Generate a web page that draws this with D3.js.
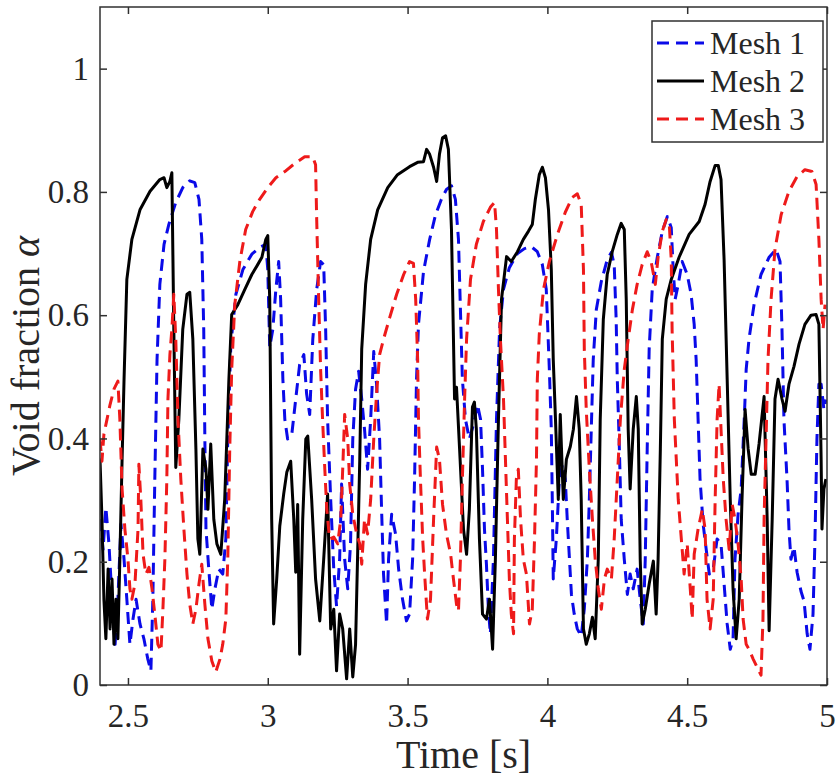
<!DOCTYPE html>
<html>
<head>
<meta charset="utf-8">
<script src="https://cdn.jsdelivr.net/npm/d3@7"></script>
<style>
  body { margin: 0; background: #fff; }
  svg text { font-family: "Liberation Serif", "Times New Roman", serif; fill: #262626; }
</style>
</head>
<body>
<svg id="chart" width="837" height="780"></svg>
<script>
// series names and tick values
const seriesNames = ["Mesh 1", "Mesh 2", "Mesh 3"];
const xTicks = [2.5, 3, 3.5, 4, 4.5, 5];
const yTicks = [0, 0.2, 0.4, 0.6, 0.8, 1];

// Mesh 1 (blue dashed): [time s, void fraction]
const mesh1 = [
  [2.400,0.269],[2.411,0.220],[2.421,0.288],[2.432,0.229],[2.443,0.139],[2.454,0.066],
  [2.464,0.139],[2.475,0.261],[2.486,0.204],[2.496,0.139],[2.507,0.066],[2.518,0.107],
  [2.529,0.139],[2.543,0.099],[2.557,0.075],[2.571,0.042],[2.582,0.023],[2.589,0.139],
  [2.596,0.334],[2.604,0.528],[2.614,0.650],[2.629,0.715],[2.646,0.747],[2.671,0.783],
  [2.696,0.807],[2.721,0.818],[2.739,0.815],[2.754,0.788],[2.764,0.723],[2.771,0.577],
  [2.775,0.399],[2.779,0.253],[2.789,0.188],[2.800,0.123],[2.811,0.156],[2.825,0.188],
  [2.839,0.180],[2.850,0.237],[2.857,0.399],[2.868,0.553],[2.886,0.634],[2.911,0.674],
  [2.943,0.699],[2.971,0.710],[2.993,0.715],[3.000,0.674],[3.007,0.548],[3.018,0.577],
  [3.029,0.642],[3.039,0.687],[3.046,0.626],[3.054,0.496],[3.061,0.431],[3.071,0.399],
  [3.086,0.407],[3.100,0.464],[3.114,0.520],[3.129,0.536],[3.139,0.472],[3.150,0.439],
  [3.161,0.561],[3.175,0.642],[3.189,0.687],[3.200,0.682],[3.207,0.577],[3.214,0.431],
  [3.225,0.301],[3.236,0.188],[3.246,0.128],[3.257,0.204],[3.264,0.326],[3.275,0.204],
  [3.286,0.156],[3.296,0.229],[3.304,0.399],[3.314,0.480],[3.325,0.509],[3.336,0.464],
  [3.346,0.415],[3.357,0.350],[3.368,0.431],[3.379,0.541],[3.389,0.488],[3.400,0.399],
  [3.407,0.285],[3.414,0.180],[3.425,0.099],[3.432,0.204],[3.443,0.277],[3.457,0.245],
  [3.468,0.188],[3.482,0.139],[3.496,0.104],[3.507,0.115],[3.518,0.204],[3.525,0.334],
  [3.532,0.496],[3.539,0.585],[3.557,0.671],[3.579,0.723],[3.600,0.763],[3.621,0.788],
  [3.639,0.804],[3.657,0.810],[3.671,0.788],[3.682,0.723],[3.689,0.609],[3.696,0.496],
  [3.707,0.431],[3.721,0.399],[3.736,0.423],[3.750,0.455],[3.761,0.431],[3.768,0.350],
  [3.775,0.253],[3.782,0.196],[3.789,0.123],[3.796,0.083],[3.807,0.204],[3.818,0.431],
  [3.829,0.577],[3.843,0.642],[3.864,0.677],[3.893,0.700],[3.918,0.708],[3.943,0.711],
  [3.964,0.703],[3.982,0.682],[3.996,0.642],[4.007,0.512],[4.014,0.415],[4.018,0.285],
  [4.021,0.172],[4.032,0.237],[4.043,0.334],[4.054,0.358],[4.064,0.334],[4.071,0.269],
  [4.079,0.204],[4.086,0.147],[4.096,0.115],[4.107,0.091],[4.121,0.079],[4.132,0.123],
  [4.143,0.204],[4.150,0.301],[4.157,0.415],[4.164,0.528],[4.175,0.609],[4.193,0.655],
  [4.214,0.690],[4.229,0.702],[4.239,0.682],[4.246,0.593],[4.250,0.496],[4.257,0.391],
  [4.264,0.269],[4.275,0.204],[4.286,0.147],[4.296,0.180],[4.307,0.156],[4.321,0.188],
  [4.332,0.139],[4.343,0.099],[4.350,0.204],[4.357,0.383],[4.364,0.545],[4.375,0.642],
  [4.393,0.694],[4.411,0.736],[4.429,0.760],[4.443,0.742],[4.450,0.674],[4.457,0.626],
  [4.468,0.650],[4.482,0.687],[4.500,0.666],[4.514,0.634],[4.525,0.585],[4.532,0.528],
  [4.539,0.431],[4.546,0.334],[4.557,0.261],[4.568,0.220],[4.579,0.180],[4.593,0.188],
  [4.607,0.237],[4.621,0.229],[4.632,0.164],[4.643,0.099],[4.654,0.058],[4.664,0.075],
  [4.671,0.204],[4.682,0.277],[4.693,0.318],[4.704,0.431],[4.711,0.512],[4.721,0.561],
  [4.739,0.617],[4.764,0.666],[4.793,0.694],[4.818,0.707],[4.832,0.687],[4.839,0.577],
  [4.846,0.431],[4.857,0.334],[4.864,0.253],[4.871,0.204],[4.882,0.224],[4.893,0.183],
  [4.907,0.152],[4.918,0.136],[4.929,0.083],[4.939,0.058],[4.950,0.115],[4.957,0.237],
  [4.964,0.399],[4.971,0.488],[4.979,0.488],[4.989,0.447],[4.996,0.463]
];

// Mesh 2 (black solid)
const mesh2 = [
  [2.400,0.366],[2.407,0.269],[2.414,0.139],[2.421,0.075],[2.429,0.188],[2.436,0.091],
  [2.443,0.172],[2.450,0.066],[2.457,0.139],[2.464,0.075],[2.471,0.204],[2.479,0.366],
  [2.486,0.496],[2.496,0.658],[2.514,0.723],[2.543,0.771],[2.579,0.801],[2.614,0.820],
  [2.629,0.823],[2.639,0.807],[2.650,0.817],[2.657,0.831],[2.664,0.577],[2.671,0.353],
  [2.682,0.431],[2.696,0.577],[2.711,0.634],[2.721,0.637],[2.732,0.561],[2.743,0.383],
  [2.750,0.237],[2.757,0.212],[2.768,0.383],[2.779,0.350],[2.786,0.285],[2.796,0.391],
  [2.807,0.269],[2.818,0.229],[2.832,0.212],[2.846,0.301],[2.861,0.496],[2.871,0.601],
  [2.893,0.617],[2.918,0.642],[2.943,0.666],[2.964,0.682],[2.979,0.694],[2.993,0.723],
  [3.000,0.729],[3.007,0.626],[3.014,0.269],[3.021,0.099],[3.032,0.172],[3.043,0.258],
  [3.057,0.310],[3.068,0.345],[3.082,0.363],[3.093,0.269],[3.100,0.183],[3.107,0.293],
  [3.114,0.050],[3.125,0.269],[3.136,0.399],[3.143,0.404],[3.157,0.301],[3.171,0.172],
  [3.186,0.104],[3.200,0.204],[3.214,0.310],[3.225,0.091],[3.236,0.123],[3.246,0.023],
  [3.257,0.115],[3.268,0.091],[3.282,0.010],[3.293,0.091],[3.304,0.013],[3.314,0.066],
  [3.321,0.204],[3.329,0.366],[3.336,0.545],[3.350,0.650],[3.368,0.723],[3.393,0.771],
  [3.429,0.807],[3.464,0.828],[3.507,0.841],[3.536,0.848],[3.557,0.849],[3.568,0.869],
  [3.579,0.861],[3.593,0.840],[3.604,0.817],[3.614,0.861],[3.625,0.888],[3.636,0.891],
  [3.646,0.869],[3.657,0.739],[3.668,0.464],[3.675,0.483],[3.686,0.383],[3.700,0.253],
  [3.711,0.212],[3.721,0.285],[3.732,0.451],[3.739,0.459],[3.746,0.415],[3.757,0.237],
  [3.768,0.115],[3.782,0.107],[3.793,0.139],[3.804,0.058],[3.814,0.204],[3.825,0.431],
  [3.836,0.626],[3.854,0.695],[3.871,0.687],[3.893,0.703],[3.914,0.723],[3.932,0.736],
  [3.946,0.747],[3.957,0.788],[3.971,0.828],[3.982,0.840],[3.993,0.823],[4.004,0.771],
  [4.014,0.674],[4.021,0.528],[4.029,0.431],[4.039,0.301],[4.046,0.439],[4.057,0.301],
  [4.068,0.366],[4.082,0.387],[4.093,0.415],[4.104,0.468],[4.114,0.415],[4.121,0.301],
  [4.129,0.091],[4.139,0.066],[4.150,0.083],[4.161,0.110],[4.171,0.075],[4.182,0.204],
  [4.189,0.431],[4.200,0.593],[4.214,0.666],[4.232,0.703],[4.250,0.731],[4.264,0.749],
  [4.275,0.739],[4.282,0.626],[4.289,0.415],[4.296,0.318],[4.307,0.415],[4.318,0.468],
  [4.325,0.415],[4.332,0.204],[4.339,0.099],[4.350,0.123],[4.364,0.164],[4.379,0.201],
  [4.389,0.115],[4.396,0.204],[4.404,0.383],[4.411,0.561],[4.425,0.626],[4.443,0.658],
  [4.471,0.694],[4.507,0.731],[4.543,0.752],[4.564,0.780],[4.582,0.817],[4.600,0.843],
  [4.611,0.843],[4.621,0.820],[4.632,0.690],[4.643,0.496],[4.654,0.301],[4.664,0.156],
  [4.675,0.075],[4.686,0.139],[4.696,0.301],[4.707,0.447],[4.718,0.383],[4.729,0.342],
  [4.743,0.342],[4.757,0.391],[4.775,0.468],[4.786,0.269],[4.793,0.088],[4.804,0.269],
  [4.814,0.464],[4.825,0.496],[4.839,0.464],[4.850,0.444],[4.864,0.488],[4.882,0.517],
  [4.900,0.553],[4.921,0.585],[4.943,0.600],[4.961,0.601],[4.971,0.585],[4.979,0.366],
  [4.982,0.253],[4.989,0.318],[4.996,0.334]
];

// Mesh 3 (red dashed)
const mesh3 = [
  [2.400,0.399],[2.407,0.363],[2.414,0.407],[2.425,0.431],[2.436,0.455],[2.450,0.480],
  [2.464,0.493],[2.471,0.431],[2.479,0.318],[2.489,0.253],[2.500,0.204],[2.507,0.156],
  [2.514,0.139],[2.525,0.164],[2.536,0.253],[2.539,0.358],[2.546,0.301],[2.554,0.212],
  [2.564,0.180],[2.575,0.191],[2.586,0.156],[2.596,0.115],[2.607,0.066],[2.618,0.055],
  [2.625,0.123],[2.632,0.204],[2.639,0.334],[2.643,0.464],[2.650,0.536],[2.657,0.577],
  [2.664,0.634],[2.671,0.561],[2.679,0.431],[2.689,0.334],[2.700,0.253],[2.711,0.180],
  [2.721,0.131],[2.732,0.099],[2.743,0.123],[2.754,0.164],[2.764,0.196],[2.775,0.131],
  [2.786,0.075],[2.800,0.039],[2.814,0.021],[2.829,0.042],[2.839,0.066],[2.850,0.107],
  [2.857,0.204],[2.864,0.383],[2.871,0.512],[2.882,0.617],[2.900,0.687],[2.921,0.739],
  [2.946,0.768],[2.971,0.788],[3.000,0.807],[3.029,0.823],[3.061,0.833],[3.096,0.846],
  [3.132,0.857],[3.161,0.857],[3.171,0.844],[3.175,0.755],[3.182,0.626],[3.189,0.512],
  [3.196,0.431],[3.204,0.350],[3.211,0.285],[3.221,0.237],[3.236,0.240],[3.250,0.229],
  [3.261,0.269],[3.268,0.350],[3.275,0.439],[3.286,0.399],[3.293,0.326],[3.304,0.277],
  [3.318,0.245],[3.329,0.229],[3.336,0.196],[3.346,0.269],[3.357,0.245],[3.368,0.301],
  [3.379,0.399],[3.389,0.472],[3.400,0.536],[3.414,0.561],[3.436,0.596],[3.461,0.634],
  [3.486,0.666],[3.507,0.687],[3.521,0.684],[3.529,0.626],[3.536,0.528],[3.539,0.431],
  [3.546,0.334],[3.554,0.237],[3.561,0.180],[3.571,0.107],[3.582,0.139],[3.593,0.269],
  [3.604,0.386],[3.614,0.366],[3.625,0.293],[3.639,0.245],[3.654,0.212],[3.664,0.172],
  [3.675,0.131],[3.682,0.120],[3.689,0.204],[3.696,0.334],[3.704,0.464],[3.711,0.561],
  [3.725,0.658],[3.746,0.715],[3.771,0.752],[3.796,0.775],[3.811,0.783],[3.818,0.739],
  [3.825,0.642],[3.832,0.561],[3.843,0.464],[3.850,0.366],[3.857,0.269],[3.864,0.172],
  [3.871,0.115],[3.879,0.083],[3.882,0.237],[3.889,0.334],[3.896,0.350],[3.904,0.269],
  [3.914,0.204],[3.925,0.180],[3.936,0.099],[3.946,0.123],[3.954,0.237],[3.961,0.366],
  [3.964,0.496],[3.971,0.569],[3.986,0.642],[4.007,0.687],[4.036,0.731],[4.064,0.767],
  [4.089,0.791],[4.107,0.797],[4.121,0.780],[4.129,0.674],[4.132,0.545],[4.139,0.447],
  [4.150,0.350],[4.161,0.269],[4.171,0.204],[4.182,0.156],[4.193,0.123],[4.204,0.172],
  [4.214,0.188],[4.229,0.172],[4.239,0.237],[4.250,0.334],[4.261,0.431],[4.275,0.512],
  [4.289,0.561],[4.304,0.609],[4.321,0.650],[4.339,0.682],[4.357,0.703],[4.371,0.687],
  [4.386,0.650],[4.396,0.694],[4.411,0.736],[4.425,0.755],[4.436,0.747],[4.443,0.690],
  [4.446,0.577],[4.454,0.431],[4.461,0.366],[4.468,0.301],[4.479,0.237],[4.489,0.180],
  [4.500,0.229],[4.511,0.156],[4.518,0.107],[4.525,0.212],[4.539,0.253],[4.554,0.285],
  [4.564,0.253],[4.571,0.139],[4.582,0.091],[4.593,0.139],[4.600,0.301],[4.607,0.431],
  [4.614,0.488],[4.621,0.415],[4.629,0.334],[4.639,0.269],[4.650,0.220],[4.661,0.293],
  [4.671,0.269],[4.682,0.229],[4.693,0.172],[4.700,0.107],[4.711,0.066],[4.721,0.058],
  [4.736,0.042],[4.750,0.029],[4.764,0.016],[4.771,0.107],[4.775,0.269],[4.782,0.399],
  [4.789,0.528],[4.800,0.626],[4.814,0.707],[4.836,0.763],[4.864,0.801],[4.893,0.825],
  [4.921,0.836],[4.946,0.833],[4.961,0.812],[4.971,0.723],[4.979,0.626],[4.986,0.577],
  [4.993,0.617]
];

const svg = d3.select("#chart");
const margin = { top: 7, right: 10, bottom: 95, left: 100 };
const width = +svg.attr("width") - margin.left - margin.right;
const height = +svg.attr("height") - margin.top - margin.bottom;

const x = d3.scaleLinear().domain([2.4, 5]).range([margin.left, margin.left + width]);
const y = d3.scaleLinear().domain([0, 1.1]).range([margin.top + height, margin.top]);

const axisColor = "#303030";

// clip to the plot box
svg.append("defs").append("clipPath").attr("id", "plot-clip")
  .append("rect")
  .attr("x", margin.left).attr("y", margin.top)
  .attr("width", width).attr("height", height);

const series = [
  { name: seriesNames[0], data: mesh1, color: "#0a0ae8", dash: "12,7" },
  { name: seriesNames[1], data: mesh2, color: "#000000", dash: null },
  { name: seriesNames[2], data: mesh3, color: "#ee1a1a", dash: "12,7" },
];

const line = d3.line().x(d => x(d[0])).y(d => y(d[1]));

const plot = svg.append("g").attr("clip-path", "url(#plot-clip)");
series.forEach(s => {
  plot.append("path")
    .datum(s.data)
    .attr("fill", "none")
    .attr("stroke", s.color)
    .attr("stroke-width", 3)
    .attr("stroke-linejoin", "round")
    .attr("stroke-dasharray", s.dash)
    .attr("d", line);
});

// axes, ticks pointing inward (MATLAB style)
function styleAxis(g) {
  g.select(".domain").remove();
  g.selectAll(".tick line").attr("stroke", axisColor).attr("stroke-width", 1.5);
  g.selectAll(".tick text").attr("fill", axisColor).attr("font-size", 33);
}

svg.append("g")
  .attr("transform", `translate(0,${margin.top + height})`)
  .call(d3.axisBottom(x).tickValues(xTicks).tickFormat(d3.format("")).tickSizeInner(-7).tickSizeOuter(0).tickPadding(19))
  .call(styleAxis);

svg.append("g")
  .attr("transform", `translate(0,${margin.top})`)
  .call(d3.axisTop(x).tickValues(xTicks).tickFormat("").tickSizeInner(-7).tickSizeOuter(0))
  .call(styleAxis);

svg.append("g")
  .attr("transform", `translate(${margin.left},0)`)
  .call(d3.axisLeft(y).tickValues(yTicks).tickFormat(d3.format("")).tickSizeInner(-7).tickSizeOuter(0).tickPadding(11))
  .call(styleAxis);

svg.append("g")
  .attr("transform", `translate(${margin.left + width},0)`)
  .call(d3.axisRight(y).tickValues(yTicks).tickFormat("").tickSizeInner(-7).tickSizeOuter(0))
  .call(styleAxis);

// box
svg.append("rect")
  .attr("x", margin.left).attr("y", margin.top)
  .attr("width", width).attr("height", height)
  .attr("fill", "none").attr("stroke", axisColor).attr("stroke-width", 1.5);

// axis labels
svg.append("text")
  .attr("x", margin.left + width / 2)
  .attr("y", 768)
  .attr("text-anchor", "middle")
  .attr("font-size", 40)
  .text("Time [s]");

const yLabel = svg.append("text")
  .attr("transform", "translate(39,356) rotate(-90)")
  .attr("text-anchor", "middle")
  .attr("font-size", 40);
yLabel.append("tspan").text("Void fraction ");
yLabel.append("tspan").attr("font-style", "italic").text("α");

// legend
const legend = svg.append("g").attr("transform", "translate(652,21)");
legend.append("rect")
  .attr("width", 171).attr("height", 121)
  .attr("fill", "#fff").attr("stroke", axisColor).attr("stroke-width", 1.5);

series.forEach((s, i) => {
  const ly = 22 + i * 38;
  legend.append("line")
    .attr("x1", 5).attr("x2", 52)
    .attr("y1", ly).attr("y2", ly)
    .attr("stroke", s.color).attr("stroke-width", 3)
    .attr("stroke-dasharray", s.dash);
  legend.append("text")
    .attr("x", 58).attr("y", ly + 11)
    .attr("font-size", 32)
    .attr("fill", "#000")
    .text(s.name);
});
</script>
</body>
</html>
